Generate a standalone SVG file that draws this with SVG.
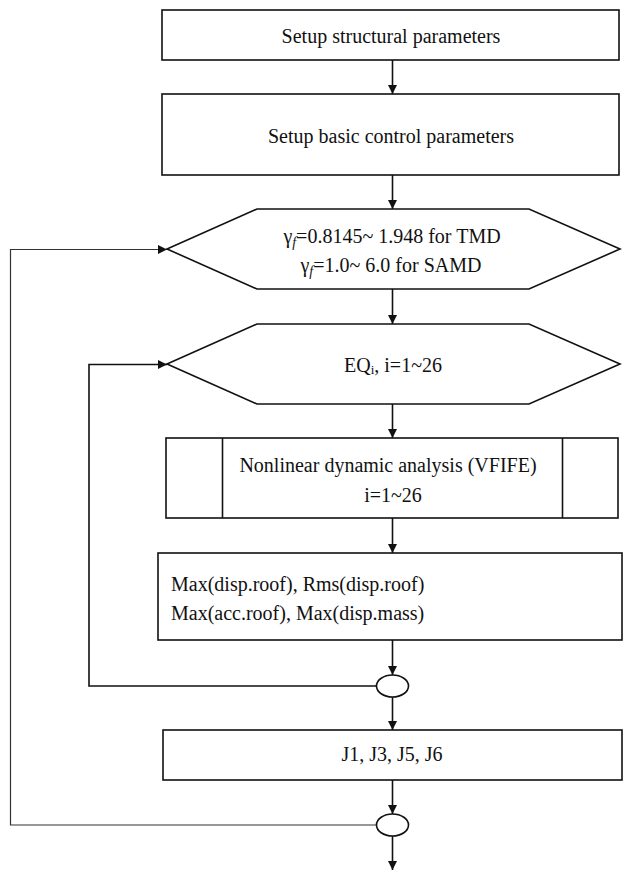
<svg xmlns="http://www.w3.org/2000/svg" width="623" height="871" viewBox="0 0 623 871">
<style>
.s{fill:#fff;stroke:#111;stroke-width:1.6}
text{font-family:'Liberation Serif',serif;font-size:20px;fill:#111}
.t{text-anchor:middle}
.c{fill:none;stroke:#111;stroke-width:1.6}
.o{fill:none;stroke:#333;stroke-width:1.2}
</style>
<defs>
<marker id="a" markerWidth="10" markerHeight="10" refX="9" refY="4.5" orient="auto" markerUnits="userSpaceOnUse">
<path d="M0,0 L9,4.5 L0,9 z" fill="#111"/>
</marker>
</defs>
<rect width="623" height="871" fill="#fff"/>
<g id="connectors">
<line class="c" x1="392.5" y1="60" x2="392.5" y2="94" marker-end="url(#a)"/>
<line class="c" x1="392.5" y1="175" x2="392.5" y2="209" marker-end="url(#a)"/>
<line class="c" x1="392.5" y1="289" x2="392.5" y2="324" marker-end="url(#a)"/>
<line class="c" x1="392.5" y1="404" x2="392.5" y2="438" marker-end="url(#a)"/>
<line class="c" x1="392.5" y1="518" x2="392.5" y2="553" marker-end="url(#a)"/>
<line class="c" x1="392.5" y1="640" x2="392.5" y2="675" marker-end="url(#a)"/>
<line class="c" x1="392.5" y1="697" x2="392.5" y2="730" marker-end="url(#a)"/>
<line class="c" x1="392.5" y1="780" x2="392.5" y2="814" marker-end="url(#a)"/>
<line class="c" x1="392.5" y1="836" x2="392.5" y2="870" marker-end="url(#a)"/>
<polyline class="c" points="376.5,686 89,686 89,364.5 167,364.5" marker-end="url(#a)"/>
<polyline class="o" points="376.5,825 10.5,825 10.5,249.5 167,249.5" marker-end="url(#a)"/>
</g>
<g id="n1">
<rect class="s" x="162" y="10" width="457" height="50"/>
<text class="t" x="391" y="43">Setup structural parameters</text>
</g>
<g id="n2">
<rect class="s" x="162" y="94" width="457" height="81"/>
<text class="t" x="391" y="143">Setup basic control parameters</text>
</g>
<g id="n3">
<polygon class="s" points="167,249 257,209 529,209 620,249 529,289 257,289"/>
<text class="t" x="392" y="242.5">γ<tspan font-style="italic" font-size="14" dy="4">f</tspan><tspan dy="-4">=0.8145~ 1.948 for TMD</tspan></text>
<text class="t" x="391" y="271.5">γ<tspan font-style="italic" font-size="14" dy="4">f</tspan><tspan dy="-4">=1.0~ 6.0 for SAMD</tspan></text>
</g>
<g id="n4">
<polygon class="s" points="167,364 257,324 529,324 620,364 529,404 257,404"/>
<text class="t" x="393" y="372">EQ<tspan font-size="13" dy="2">i</tspan><tspan dy="-2">, i=1~26</tspan></text>
</g>
<g id="n5">
<rect class="s" x="166" y="438" width="452" height="80"/>
<line class="c" x1="222.5" y1="438" x2="222.5" y2="518"/>
<line class="c" x1="562.5" y1="438" x2="562.5" y2="518"/>
<text class="t" x="388" y="472">Nonlinear dynamic analysis (VFIFE)</text>
<text class="t" x="393" y="502">i=1~26</text>
</g>
<g id="n6">
<rect class="s" x="158" y="553" width="464" height="87"/>
<text x="171" y="590.5">Max(disp.roof), Rms(disp.roof)</text>
<text x="171" y="619.5">Max(acc.roof), Max(disp.mass)</text>
</g>
<g id="n7">
<ellipse class="s" cx="392.5" cy="686" rx="16" ry="11"/>
</g>
<g id="n8">
<rect class="s" x="163" y="730" width="459" height="50"/>
<text class="t" x="392" y="760.5">J1, J3, J5, J6</text>
</g>
<g id="n9">
<ellipse class="s" cx="392.5" cy="825" rx="16" ry="11"/>
</g>
</svg>
